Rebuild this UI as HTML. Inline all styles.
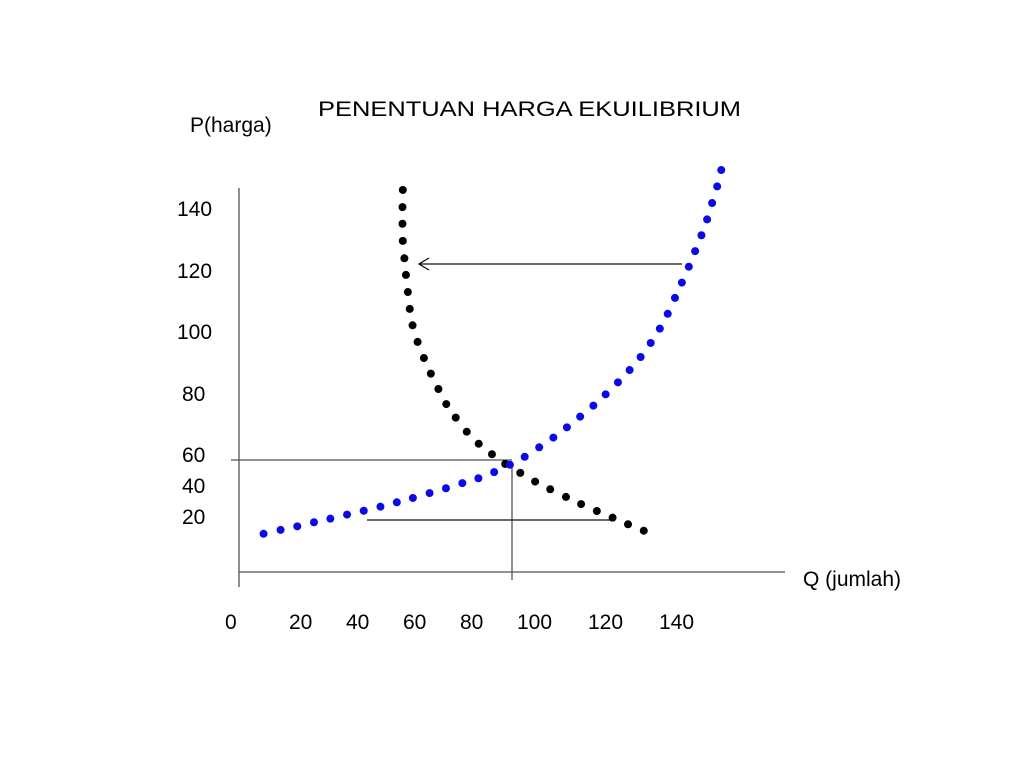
<!DOCTYPE html>
<html><head><meta charset="utf-8"><style>
html,body{margin:0;padding:0;background:#fff;}
svg{display:block;font-family:"Liberation Sans",Arial,sans-serif;}
</style></head><body>
<svg id="chart" width="1024" height="768" viewBox="0 0 1024 768" xmlns="http://www.w3.org/2000/svg">
<rect width="1024" height="768" fill="#fff"/>
<text x="318" y="116" font-size="21" textLength="423" lengthAdjust="spacingAndGlyphs">PENENTUAN HARGA EKUILIBRIUM</text>
<text x="190" y="132" font-size="21">P(harga)</text>
<text x="803" y="586" font-size="21">Q (jumlah)</text>
<line x1="239" y1="188" x2="239" y2="587" stroke="#555" stroke-width="1.3"/>
<line x1="239" y1="572" x2="785" y2="572" stroke="#555" stroke-width="1.3"/>
<line x1="231" y1="460" x2="512" y2="460" stroke="#555" stroke-width="1.3"/>
<line x1="512" y1="462" x2="512" y2="580" stroke="#555" stroke-width="1.3"/>
<line x1="367" y1="520" x2="612" y2="520" stroke="#111" stroke-width="1.3"/>
<g stroke="#111" stroke-width="1.3" fill="none">
<line x1="682" y1="264" x2="419" y2="264"/>
<polyline points="429,258 419,264 429,270"/>
</g>
<g id="yticks"></g><g id="xticks"></g>
<g id="demand"></g><g id="supply"></g>
</svg>
<script>
const yTickLabels = ["140","120","100","80","60","40","20"];
const yTickBaselines = [216,278,339,401,462,493,524];
const yTickX = [177,177,177,182,182,182,182];
const xTickLabels = ["0","20","40","60","80","100","120","140"];
const xTickX = [225,289,346,403,460,517,588,659];
const demandQ = [52.0,51.9,51.9,52.0,52.5,53.0,53.6,54.2,55.1,56.7,58.7,60.9,63.3,65.8,68.8,72.3,76.1,80.3,84.5,89.3,94.0,98.8,103.8,108.6,113.6,118.6,123.5,128.5];
const demandP = [147.0,140.3,133.8,127.1,120.3,113.8,107.1,100.5,94.1,87.6,81.3,75.2,69.2,63.3,58.0,52.5,47.8,43.7,39.9,36.4,33.0,30.0,27.0,24.2,21.5,18.9,16.3,13.8];
const supplyQ = [7.8,13.2,18.5,23.8,29.0,34.3,39.6,44.9,50.1,55.2,60.5,65.7,70.9,76.0,81.0,86.0,90.7,95.3,99.8,104.1,108.3,112.5,116.4,120.3,124.0,127.5,130.7,133.6,136.1,138.4,140.6,142.8,144.8,146.8,148.6,150.2,151.8,153.1];
const supplyP = [12.6,14.1,15.5,17.1,18.5,20.1,21.6,23.2,24.9,26.6,28.5,30.4,32.4,34.3,36.7,39.6,42.7,46.4,50.2,54.2,58.4,62.7,67.1,71.8,76.6,81.7,87.2,92.8,98.6,104.8,110.8,117.0,123.1,129.3,135.5,141.9,148.4,154.8];

const NS = "http://www.w3.org/2000/svg";
const xScale = q => 239 + q * 3.15;
const yScale = p => 566 - p * 2.558;

const yt = document.getElementById('yticks');
yTickLabels.forEach((l, i) => {
  const t = document.createElementNS(NS, 'text');
  
  
  t.setAttribute('x', yTickX[i]); t.setAttribute('y', yTickBaselines[i]);
  t.setAttribute('font-size', '21'); t.textContent = l; yt.appendChild(t);
});
const xt = document.getElementById('xticks');
xTickLabels.forEach((l, i) => {
  const t = document.createElementNS(NS, 'text');
  
  
  t.setAttribute('x', xTickX[i]); t.setAttribute('y', 629);
  t.setAttribute('font-size', '21'); t.textContent = l; xt.appendChild(t);
});
function drawDots(gid, qs, ps, color, name) {
  const g = document.getElementById(gid);
  
  
  qs.forEach((q, i) => {
    const c = document.createElementNS(NS, 'circle');
    
    
    c.setAttribute('cx', xScale(q)); c.setAttribute('cy', yScale(ps[i]));
    c.setAttribute('r', 4); c.setAttribute('fill', color); g.appendChild(c);
  });
}
drawDots('demand', demandQ, demandP, '#000', 'demand');
drawDots('supply', supplyQ, supplyP, '#0a0ae8', 'supply');
</script>
</body></html>
